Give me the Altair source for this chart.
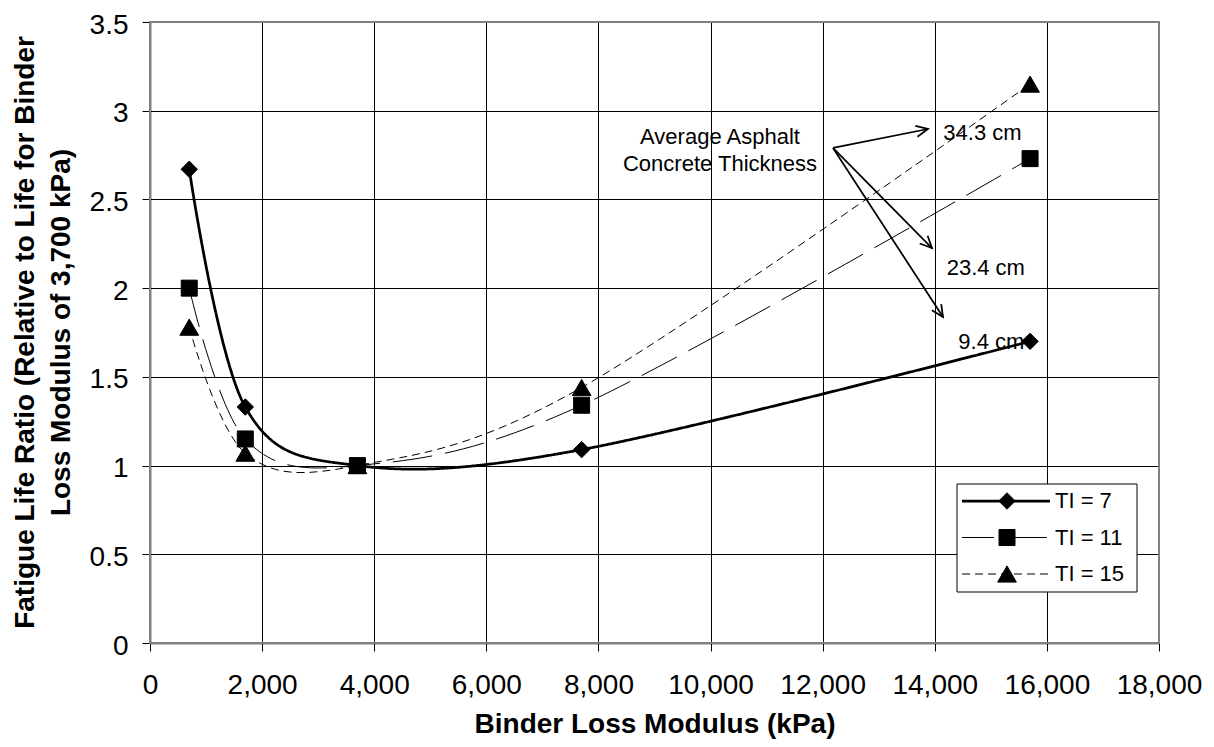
import math
import altair as alt
import pandas as pd

# ---------------- data ----------------
binder_modulus = [700, 1700, 3700, 7700, 15700]
ratio_ti7 = [2.67, 1.33, 1.00, 1.09, 1.70]
ratio_ti11 = [2.00, 1.15, 1.00, 1.34, 2.73]
ratio_ti15 = [1.78, 1.07, 1.00, 1.44, 3.15]
series_names = ["TI = 7", "TI = 11", "TI = 15"]

x_ticks = [0, 2000, 4000, 6000, 8000, 10000, 12000, 14000, 16000, 18000]
y_ticks = [0, 0.5, 1, 1.5, 2, 2.5, 3, 3.5]

note_lines = ["Average Asphalt", "Concrete Thickness"]
note_x = [10168, 10168]
note_y = [2.852, 2.700]

thickness_labels = ["34.3 cm", "23.4 cm", "9.4 cm"]
thickness_x = [14153, 14212, 14420]
thickness_y = [2.875, 2.111, 1.696]

arrow_from_x = [12184, 12184, 12184]
arrow_from_y = [2.790, 2.790, 2.790]
arrow_to_x = [13879, 13950, 14147]
arrow_to_y = [2.897, 2.226, 1.837]

# ---------------- layout / style ----------------
W, H = 1009, 621
X_MAX, Y_MAX = 18000, 3.5
FONT = "Liberation Sans"

styles = {
    "TI = 7": dict(width=2.75, dash=[1, 0], shape="diamond", size=270),
    "TI = 11": dict(width=1.0, dash=[40, 13], shape="square", size=256),
    "TI = 15": dict(width=1.0, dash=[8, 5], shape="triangle-up", size=350),
}
values_by_series = {"TI = 7": ratio_ti7, "TI = 11": ratio_ti11, "TI = 15": ratio_ti15}

x_scale = alt.Scale(domain=[0, X_MAX], nice=False, zero=False)
y_scale = alt.Scale(domain=[0, Y_MAX], nice=False, zero=False)
x_axis = alt.Axis(values=x_ticks, format=",d", title="Binder Loss Modulus (kPa)")
y_axis = alt.Axis(values=y_ticks, format=".1~f",
                  title=["Fatigue Life Ratio (Relative to Life for Binder",
                         "Loss Modulus of 3,700 kPa)"])


def X(field):
    return alt.X(field, type="quantitative", scale=x_scale, axis=x_axis)


def Y(field):
    return alt.Y(field, type="quantitative", scale=y_scale, axis=y_axis)


layers = []

# data lines (smoothed)
for name in ["TI = 15", "TI = 11", "TI = 7"]:
    st = styles[name]
    df = pd.DataFrame({"x": binder_modulus, "y": values_by_series[name]})
    layers.append(
        alt.Chart(df).mark_line(interpolate="cardinal", color="black",
                                strokeWidth=st["width"], strokeDash=st["dash"])
        .encode(x=X("x"), y=Y("y"))
    )

# markers
for name in ["TI = 15", "TI = 11", "TI = 7"]:
    st = styles[name]
    df = pd.DataFrame({"x": binder_modulus, "y": values_by_series[name]})
    layers.append(
        alt.Chart(df).mark_point(shape=st["shape"], filled=True, color="black",
                                 stroke="black", strokeWidth=1, size=st["size"], opacity=1)
        .encode(x=X("x"), y=Y("y"))
    )

# annotation arrows
px_per_x = W / X_MAX
px_per_y = H / Y_MAX
arrow_angle = [
    (math.degrees(math.atan2(-(ty - fy) * px_per_y, (tx - fx) * px_per_x)) + 360) % 360
    for fx, fy, tx, ty in zip(arrow_from_x, arrow_from_y, arrow_to_x, arrow_to_y)
]
arrows = pd.DataFrame({"x": arrow_from_x, "y": arrow_from_y,
                       "x1": arrow_to_x, "y1": arrow_to_y, "angle": arrow_angle})
layers.append(
    alt.Chart(arrows).mark_rule(color="black", strokeWidth=1.75)
    .encode(x=X("x"), y=Y("y"), x2="x1", y2="y1")
)
layers.append(
    alt.Chart(arrows).mark_point(shape="M -1 -0.47 L 0 0 L -1 0.47", filled=False,
                                 stroke="black", strokeWidth=1.75, size=560, opacity=1)
    .encode(x=X("x1"), y=Y("y1"), angle=alt.Angle("angle:Q", scale=None))
)

notes = pd.DataFrame({"x": note_x, "y": note_y, "t": note_lines})
layers.append(
    alt.Chart(notes).mark_text(font=FONT, fontSize=22, color="black",
                               align="center", baseline="middle")
    .encode(x=X("x"), y=Y("y"), text="t:N")
)
thick = pd.DataFrame({"x": thickness_x, "y": thickness_y, "t": thickness_labels})
layers.append(
    alt.Chart(thick).mark_text(font=FONT, fontSize=22, color="black",
                               align="left", baseline="middle")
    .encode(x=X("x"), y=Y("y"), text="t:N")
)

# legend (drawn in pixel space inside plot)
one = pd.DataFrame({"a": [0]})
LEG_L, LEG_R, LEG_T, LEG_B = 807, 987, 462, 570
layers.append(
    alt.Chart(one).mark_rect(fill="white", stroke="black", strokeWidth=1)
    .encode(x=alt.value(LEG_L), x2=alt.value(LEG_R), y=alt.value(LEG_T), y2=alt.value(LEG_B))
)
for i, name in enumerate(series_names):
    st = styles[name]
    yy = 479 + 36.5 * i
    layers.append(
        alt.Chart(one).mark_rule(color="black", strokeWidth=st["width"], strokeDash=st["dash"],
                                 strokeDashOffset=(8 if name == "TI = 11" else 0))
        .encode(x=alt.value(812), x2=alt.value(900), y=alt.value(yy))
    )
    layers.append(
        alt.Chart(one).mark_point(shape=st["shape"], filled=True, color="black",
                                  stroke="black", strokeWidth=1, size=st["size"], opacity=1)
        .encode(x=alt.value(857), y=alt.value(yy))
    )
    layers.append(
        alt.Chart(one).mark_text(font=FONT, fontSize=22, color="black",
                                 align="left", baseline="middle")
        .encode(x=alt.value(905), y=alt.value(yy), text=alt.value(name))
    )

# plot border
layers.append(
    alt.Chart(one).mark_rect(fillOpacity=0, stroke="#808080", strokeWidth=2)
    .encode(x=alt.value(0), x2=alt.value(W), y=alt.value(0), y2=alt.value(H))
)

chart = (
    alt.layer(*layers)
    .properties(width=W, height=H, background="white",
                autosize=alt.AutoSizeParams(type="none"),
                padding={"left": 142, "top": 14, "right": 47, "bottom": 96})
    .configure(font=FONT)
    .configure_view(stroke=None)
    .configure_axis(labelFont=FONT, labelFontSize=28, labelColor="black",
                    titleFont=FONT, titleFontSize=28, titleFontWeight="bold",
                    titleColor="black", grid=True, gridColor="black", gridOpacity=1,
                    gridWidth=1, tickColor="black", tickSize=8, tickWidth=1,
                    domainColor="black", domainWidth=1.5, labelOverlap=False,
                    labelFlush=False)
    .configure_axisX(labelPadding=20, titleY=89, titleBaseline="alphabetic")
    .configure_axisY(labelPadding=14, labelOffset=3, titleX=-139, titleY=310,
                     titleAngle=270, titleBaseline="top", titleAlign="center",
                     titleLineHeight=36)
)

chart.save("out.html", embed_options={"renderer": "svg", "actions": False})
